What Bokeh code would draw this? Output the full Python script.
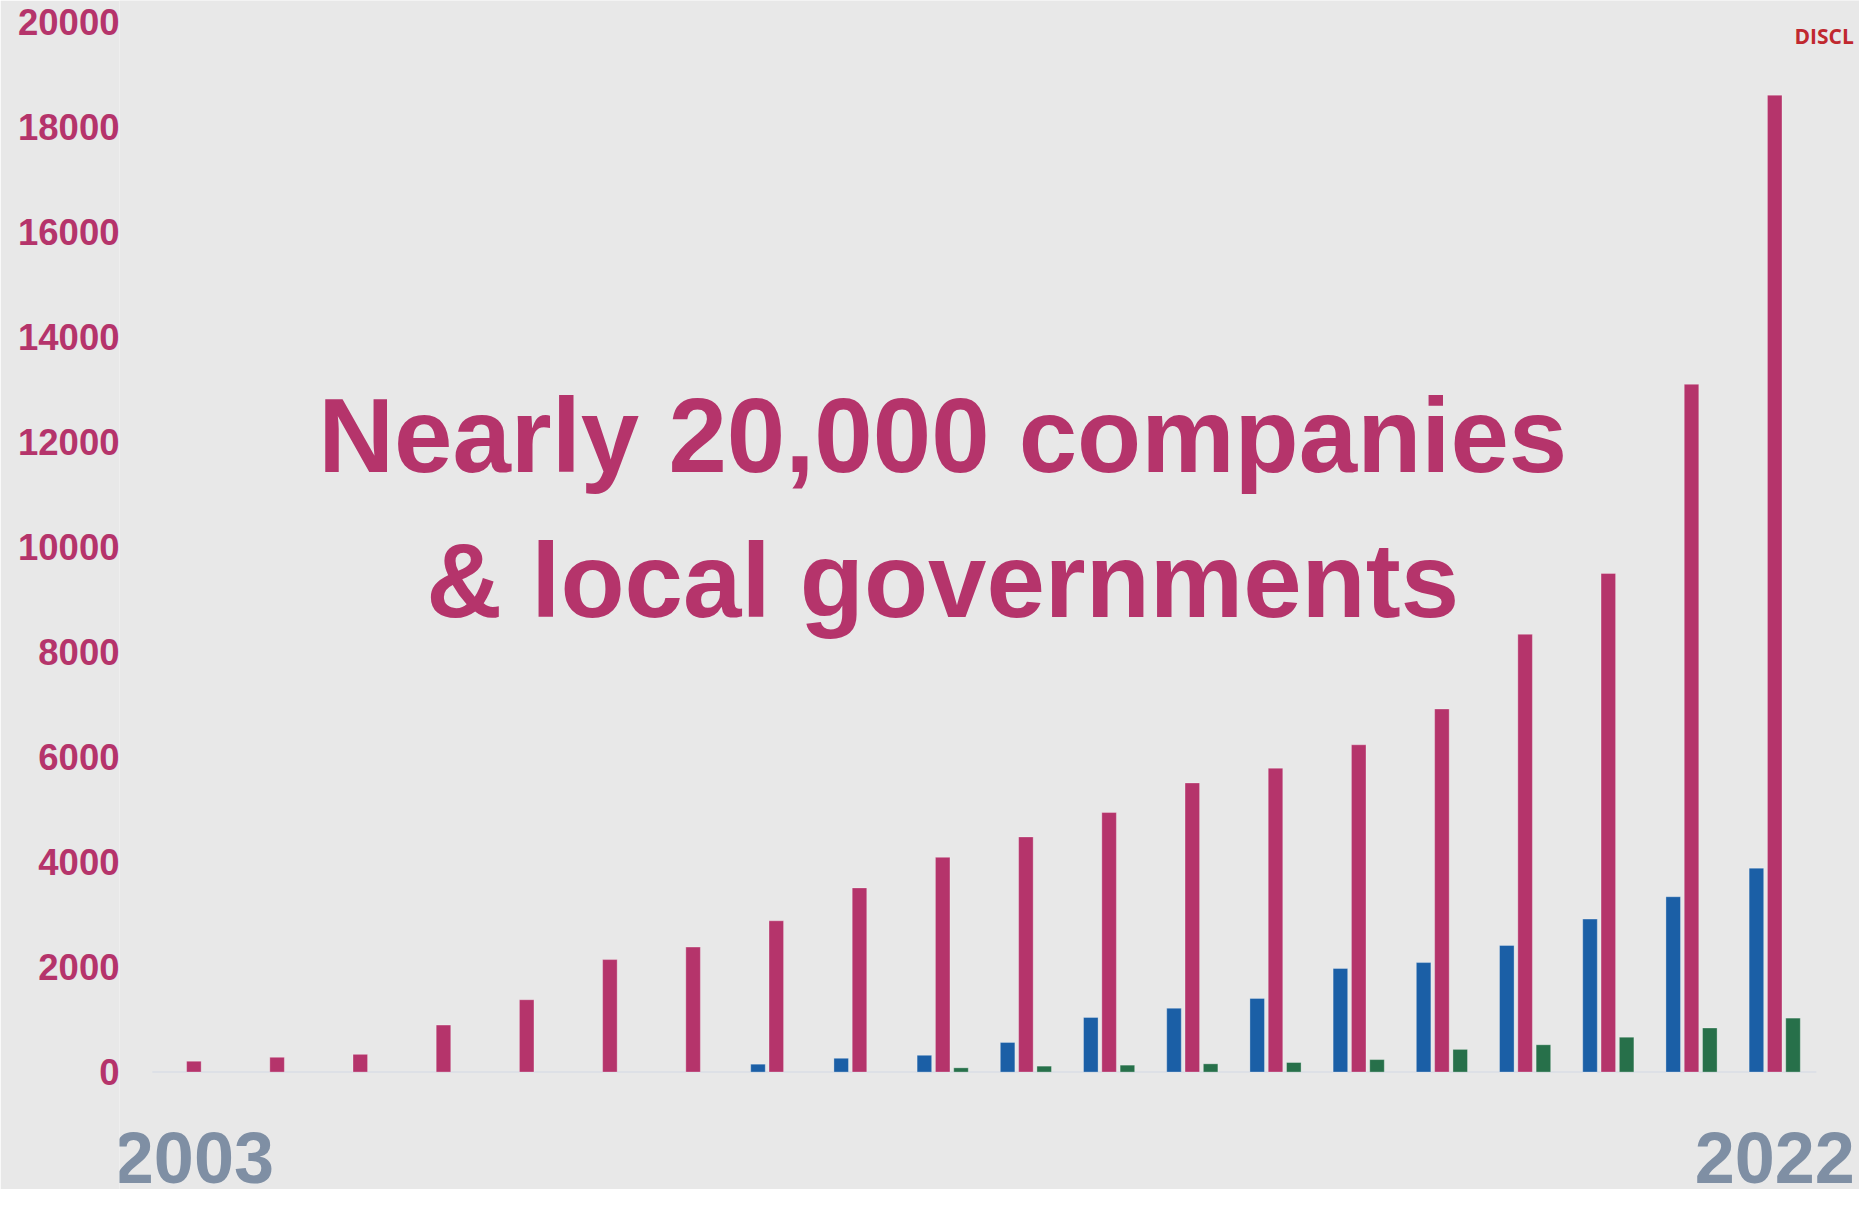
from bokeh.plotting import figure
from bokeh.models import ColumnDataSource, FixedTicker, Label, Range1d
from bokeh.transform import dodge
from bokeh.core.properties import value
from bokeh.embed import file_html
from bokeh.resources import INLINE
import numpy as np

# ---- data ----
years = list(range(2003, 2023))
pink_values = [207, 282, 338, 896, 1378, 2143, 2381, 2882, 3509, 4091,
               4480, 4944, 5508, 5789, 6235, 6917, 8340, 9500, 13103, 18611]
blue_values = [None, None, None, None, None, None, None, 150, 263, 320,
               564, 1040, 1216, 1404, 1974, 2086, 2412, 2914, 3340, 3885]
green_values = [None, None, None, None, None, None, None, None, None, 81,
                113, 132, 157, 182, 238, 432, 520, 664, 840, 1028]
y_ticks = [0, 2000, 4000, 6000, 8000, 10000, 12000, 14000, 16000, 18000, 20000]
year_labels = ["2003", "2022"]
year_label_pos = [2003, 2022]
title_lines = ["Nearly 20,000 companies", "& local governments"]
corner_text = "DISCL"

PINK = "#b5346b"
BLUE = "#1b5fa6"
GREEN = "#27704a"
GREY = "#7f8fa4"
BG = "#e8e8e8"
FONT = "Liberation Sans"

def clean(a):
    return np.array([np.nan if v is None else v for v in a], dtype=float)

src = ColumnDataSource(dict(year=years, pink=clean(pink_values),
                            blue=clean(blue_values), green=clean(green_values)))

p = figure(width=1859, height=1189, output_backend="svg", toolbar_location=None,
           x_range=Range1d(2002.106, 2023.019), y_range=Range1d(-2237, 20414),
           x_axis_location=None, min_border_left=119, min_border_right=0,
           min_border_top=0, min_border_bottom=0)
p.background_fill_color = BG
p.border_fill_color = BG
p.outline_line_color = None
p.xgrid.visible = False
p.ygrid.visible = False

ax = p.yaxis[0]
ax.ticker = FixedTicker(ticks=y_ticks)
ax.axis_line_color = None
ax.major_tick_line_color = None
ax.minor_tick_line_color = None
ax.major_tick_out = 0
ax.major_tick_in = 0
ax.major_label_standoff = 0
ax.major_label_text_font = FONT
ax.major_label_text_font_style = "bold"
ax.major_label_text_font_size = "36.5px"
ax.major_label_text_color = PINK

# baseline
p.segment(x0=[years[0] - 0.5], x1=[years[-1] + 0.5], y0=[0], y1=[0],
          line_color="#dde0e6", line_width=2)

w = 0.175
off = 0.22
common = dict(source=src, width=w, bottom=0, line_color="white", line_alpha=0.3, line_width=1)
p.vbar(x=dodge("year", -off), top="blue", fill_color=BLUE, **common)
p.vbar(x="year", top="pink", fill_color=PINK, **common)
p.vbar(x=dodge("year", off), top="green", fill_color=GREEN, **common)

# year labels
ysrc = ColumnDataSource(dict(x=year_label_pos, y=[-1645] * len(year_label_pos), t=year_labels))
p.text(x="x", y="y", text="t", source=ysrc, text_align="center", text_baseline="middle",
       text_font=value(FONT), text_font_style="bold", text_font_size="72px", text_color=GREY)

# title
for txt, yy in zip(title_lines, [12133, 9366]):
    p.add_layout(Label(x=2012.0, y=yy, text=txt, text_align="center", text_baseline="middle",
                       text_font=FONT, text_font_style="bold", text_font_size="105px",
                       text_color=PINK))

# corner text
p.text(x=[2022.238], y=[19746], text=[corner_text], text_align="left", text_baseline="middle",
       text_font=value("Open Sans"), text_font_style="bold", text_font_size="21px",
       text_color="#c0282f")

open("out.html", "w").write(file_html(p, INLINE))
